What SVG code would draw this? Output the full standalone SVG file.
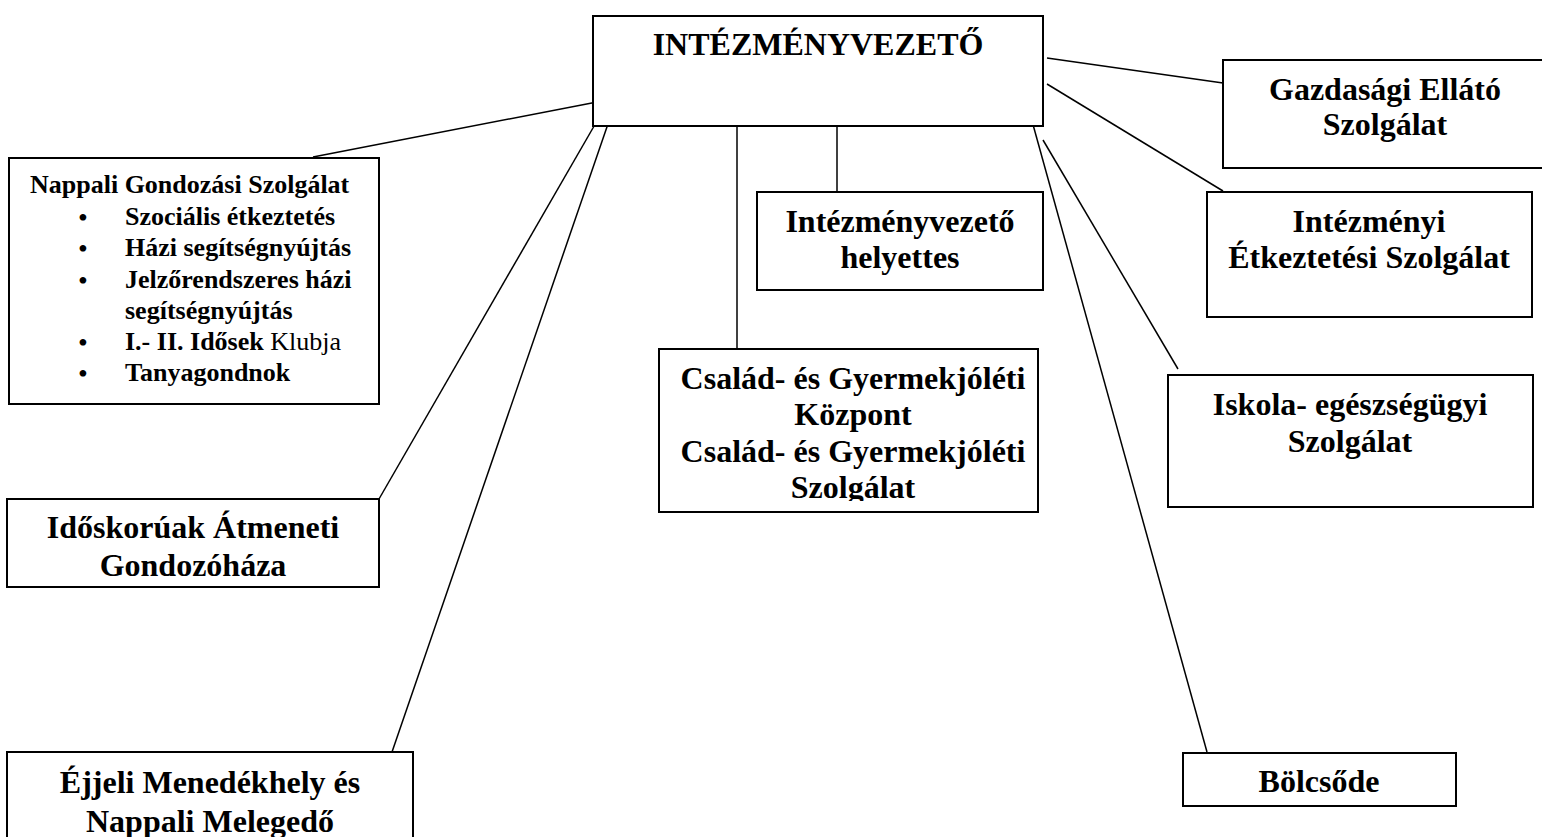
<svg xmlns="http://www.w3.org/2000/svg" width="1542" height="837" viewBox="0 0 1542 837">
<style>
.box{fill:#fff;stroke:#000;stroke-width:2}
.ln{stroke:#000;stroke-width:1.5;fill:none}
text{font-family:"Liberation Serif","Times New Roman",serif;font-weight:bold;fill:#000}
.big{font-size:32px;text-anchor:middle}
.sm{font-size:26px}
.bul{font-size:28px;font-weight:normal}
.nb{font-weight:normal}
</style>
<defs>
<clipPath id="clipCsalad"><rect x="659" y="349" width="380" height="152"/></clipPath>
</defs>
<rect width="1542" height="837" fill="#fff"/>
<g id="connectors">
<line class="ln" x1="597" y1="102" x2="313" y2="157"/>
<line class="ln" x1="597" y1="121" x2="379" y2="499"/>
<line class="ln" x1="609" y1="121" x2="392" y2="752"/>
<line class="ln" x1="737" y1="121" x2="737" y2="349"/>
<line class="ln" x1="837" y1="121" x2="837" y2="192"/>
<line class="ln" x1="1032" y1="121" x2="1207" y2="752"/>
<line class="ln" x1="1043" y1="140" x2="1178" y2="369"/>
<line class="ln" x1="1047" y1="84" x2="1223" y2="191"/>
<line class="ln" x1="1047" y1="58" x2="1223" y2="83"/>
</g>
<g id="n-main">
<rect class="box" x="593" y="16" width="450" height="110"/>
<text class="big" x="818" y="55">INTÉZMÉNYVEZETŐ</text>
</g>
<g id="n-nappali">
<rect class="box" x="9" y="158" width="370" height="246"/>
<text class="sm" x="30" y="193">Nappali Gondozási Szolgálat</text>
<text class="bul" x="78" y="227">•</text>
<text class="sm" x="125" y="225">Szociális étkeztetés</text>
<text class="bul" x="78" y="258">•</text>
<text class="sm" x="125" y="256">Házi segítségnyújtás</text>
<text class="bul" x="78" y="290">•</text>
<text class="sm" x="125" y="288">Jelzőrendszeres házi</text>
<text class="sm" x="125" y="319">segítségnyújtás</text>
<text class="bul" x="78" y="352">•</text>
<text class="sm" x="125" y="350">I.- II. Idősek<tspan class="nb"> Klubja</tspan></text>
<text class="bul" x="78" y="383">•</text>
<text class="sm" x="125" y="381">Tanyagondnok</text>
</g>
<g id="n-gazdasagi">
<rect class="box" x="1223" y="60" width="330" height="108"/>
<text class="big" x="1385" y="100">Gazdasági Ellátó</text>
<text class="big" x="1385" y="135">Szolgálat</text>
</g>
<g id="n-helyettes">
<rect class="box" x="757" y="192" width="286" height="98"/>
<text class="big" x="900" y="232">Intézményvezető</text>
<text class="big" x="900" y="268">helyettes</text>
</g>
<g id="n-intezmenyi">
<rect class="box" x="1207" y="192" width="325" height="125"/>
<text class="big" x="1369" y="232">Intézményi</text>
<text class="big" x="1369" y="268">Étkeztetési Szolgálat</text>
</g>
<g id="n-csalad">
<rect class="box" x="659" y="349" width="379" height="163"/>
<g clip-path="url(#clipCsalad)">
<text class="big" x="853" y="389">Család- és Gyermekjóléti</text>
<text class="big" x="853" y="425">Központ</text>
<text class="big" x="853" y="462">Család- és Gyermekjóléti</text>
<text class="big" x="853" y="498">Szolgálat</text>
</g>
</g>
<g id="n-iskola">
<rect class="box" x="1168" y="375" width="365" height="132"/>
<text class="big" x="1350" y="415">Iskola- egészségügyi</text>
<text class="big" x="1350" y="452">Szolgálat</text>
</g>
<g id="n-idoskoruak">
<rect class="box" x="7" y="499" width="372" height="88"/>
<text class="big" x="193" y="538">Időskorúak Átmeneti</text>
<text class="big" x="193" y="576">Gondozóháza</text>
</g>
<g id="n-ejjeli">
<rect class="box" x="7" y="752" width="406" height="100"/>
<text class="big" x="210" y="793">Éjjeli Menedékhely és</text>
<text class="big" x="210" y="832">Nappali Melegedő</text>
</g>
<g id="n-bolcsode">
<rect class="box" x="1183" y="753" width="273" height="53"/>
<text class="big" x="1319" y="792">Bölcsőde</text>
</g>
</svg>
